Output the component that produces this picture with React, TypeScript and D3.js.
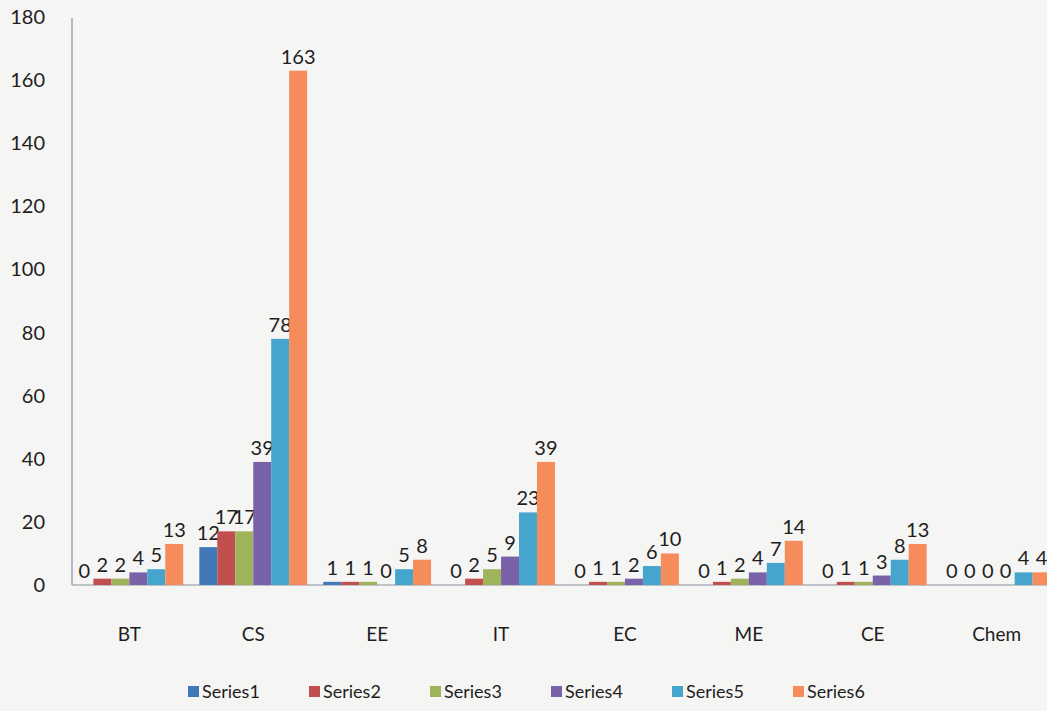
import React from "react";
import * as d3 from "d3";

const categories = ["BT", "CS", "EE", "IT", "EC", "ME", "CE", "Chem"];
const seriesNames = ["Series1", "Series2", "Series3", "Series4", "Series5", "Series6"];
const series1 = [0, 12, 1, 0, 0, 0, 0, 0];
const series2 = [2, 17, 1, 2, 1, 1, 1, 0];
const series3 = [2, 17, 1, 5, 1, 2, 1, 0];
const series4 = [4, 39, 0, 9, 2, 4, 3, 0];
const series5 = [5, 78, 5, 23, 6, 7, 8, 4];
const series6 = [13, 163, 8, 39, 10, 14, 13, 4];
const yTicks = [0, 20, 40, 60, 80, 100, 120, 140, 160, 180];
const colors = ["#4178b9", "#c24f4f", "#9fb45a", "#7a62a8", "#45a5cc", "#f68b5c"];

const allSeries = [series1, series2, series3, series4, series5, series6];

const W = 1047;
const H = 711;
const font = "Lato, 'Open Sans', sans-serif";

export default function App() {
  const x = d3.scaleBand<string>().domain(categories).range([68, 1058]).paddingInner(0.13).paddingOuter(0.06);
  const xs = d3.scaleBand<string>().domain(seriesNames).range([0, x.bandwidth()]);
  const y = d3.scaleLinear().domain([0, 180]).range([585, 17]);

  return (
    <svg
      width={W}
      height={H}
      style={{ position: "absolute", left: 0, top: 0, background: "#f5f5f3" }}
      fontFamily={font}
    >
      {/* axes */}
      <line x1={72} x2={72} y1={18} y2={585} stroke="#8a8fa0" strokeWidth={1.2} />
      <line x1={72} x2={W} y1={585} y2={585} stroke="#8a8fa0" strokeWidth={1.2} />
      {yTicks.map((t) => (
        <text key={t} x={45} y={y(t)} dy="0.35em" textAnchor="end" fontSize={20} fill="#1e1e1e">
          {t}
        </text>
      ))}

      {/* bars + value labels */}
      {categories.map((c, ci) => (
        <g key={c} transform={`translate(${x(c)},0)`}>
          {allSeries.map((s, si) => {
            const v = s[ci];
            const bx = xs(seriesNames[si])!;
            return (
              <g key={si}>
                <rect
                  x={bx}
                  y={y(v)}
                  width={xs.bandwidth()}
                  height={Math.max(y(0) - y(v), 0)}
                  fill={colors[si]}
                />
                <text
                  x={bx + xs.bandwidth() / 2}
                  y={y(v) - 7}
                  textAnchor="middle"
                  fontSize={20}
                  fill="#1e1e1e"
                >
                  {v}
                </text>
              </g>
            );
          })}
          <text x={x.bandwidth() / 2} y={641} textAnchor="middle" fontSize={19} fill="#1e1e1e">
            {c}
          </text>
        </g>
      ))}

      {/* legend */}
      {seriesNames.map((n, i) => {
        const lx = 188 + i * 121;
        return (
          <g key={n} transform={`translate(${lx},692)`}>
            <rect x={0} y={-6} width={11} height={11} fill={colors[i]} />
            <text x={14} y={0} dy="0.35em" fontSize={18} fill="#1e1e1e">
              {n}
            </text>
          </g>
        );
      })}
    </svg>
  );
}
